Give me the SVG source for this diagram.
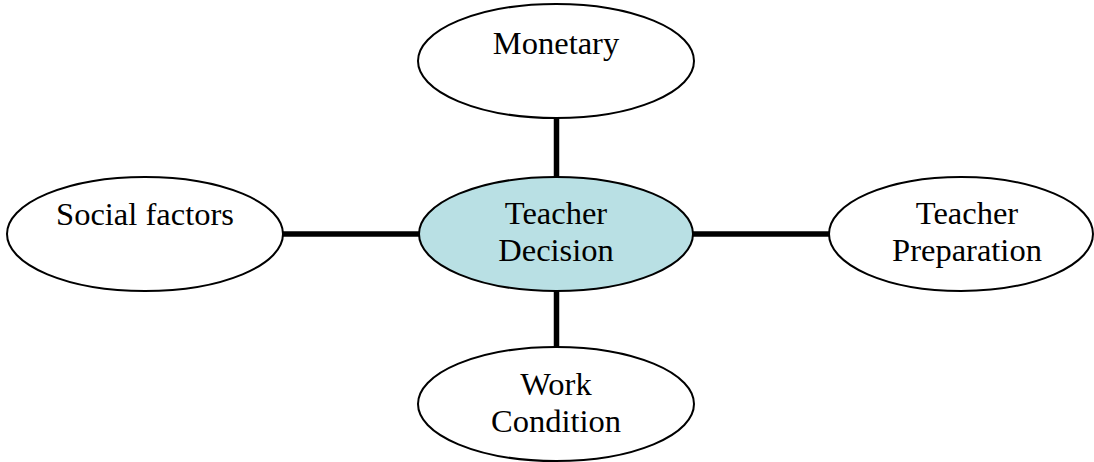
<svg xmlns="http://www.w3.org/2000/svg" width="1094" height="462" viewBox="0 0 1094 462">
<style>
.n{fill:#fff;stroke:#000;stroke-width:2}
.c{fill:#b9e0e4;stroke:#000;stroke-width:2}
.t{font-family:"Liberation Serif","Times New Roman",serif;font-size:32.5px;fill:#000;text-anchor:middle}
.e{stroke:#000;stroke-width:5.5;fill:none}
</style>
<rect width="1094" height="462" fill="#fff"/>
<g id="connectors">
<line class="e" x1="556.5" y1="118" x2="556.5" y2="178"/>
<line class="e" x1="556.5" y1="290" x2="556.5" y2="347"/>
<line class="e" x1="283" y1="234" x2="420" y2="234"/>
<line class="e" x1="692" y1="234" x2="829" y2="234"/>
</g>
<g id="monetary">
<ellipse class="n" cx="556" cy="61" rx="138" ry="57"/>
<text class="t" x="556" y="54">Monetary</text>
</g>
<g id="social">
<ellipse class="n" cx="145" cy="234" rx="138" ry="57"/>
<text class="t" x="145" y="225">Social factors</text>
</g>
<g id="decision">
<ellipse class="c" cx="556" cy="234" rx="137" ry="57"/>
<text class="t" x="556" y="224">Teacher</text>
<text class="t" x="556" y="261">Decision</text>
</g>
<g id="preparation">
<ellipse class="n" cx="961" cy="234" rx="132" ry="57"/>
<text class="t" x="967" y="224">Teacher</text>
<text class="t" x="967" y="261">Preparation</text>
</g>
<g id="work">
<ellipse class="n" cx="556" cy="404" rx="138" ry="57"/>
<text class="t" x="556" y="395">Work</text>
<text class="t" x="556" y="432">Condition</text>
</g>
</svg>
